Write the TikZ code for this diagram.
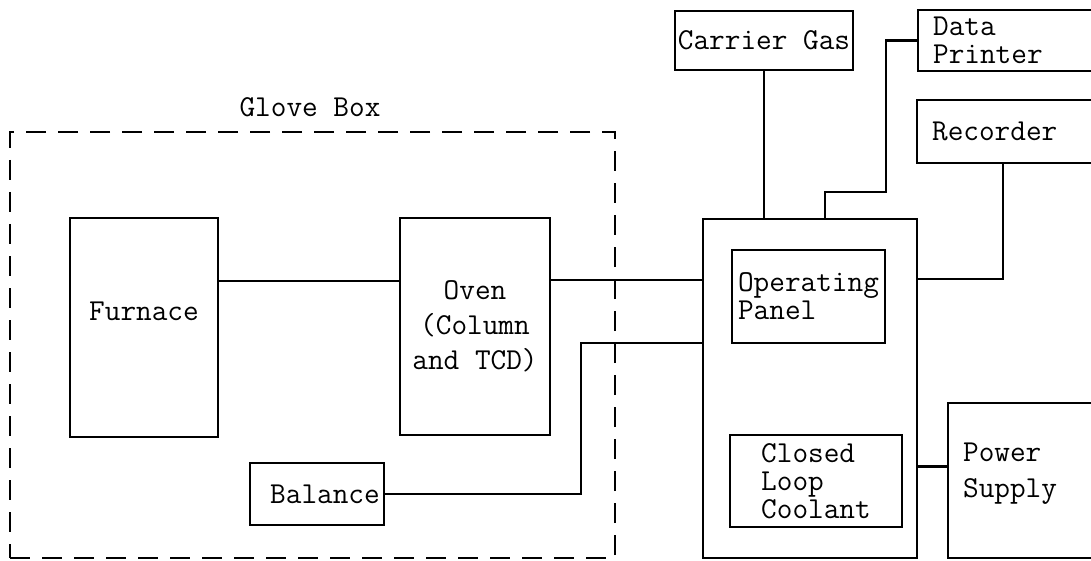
\documentclass[tikz,border=0pt]{standalone}
\usetikzlibrary{positioning}

\begin{document}
\begin{tikzpicture}[x=0.5pt, y=-0.5pt,
  font=\ttfamily\fontsize{15.2}{12}\selectfont,
  box/.style={draw, line width=1.1pt, inner sep=0pt, align=center},
  rbox/.style={draw, line width=1.1pt, anchor=west, inner xsep=7.5pt, inner ysep=0pt, align=left},
  gbox/.style={draw, line width=1.1pt, dash pattern=on 10pt off 6pt, inner sep=0pt},
  ln/.style={line width=1.1pt}]
\useasboundingbox (0,0) rectangle (1091,561);
% glove box
\node[gbox, minimum width=302.5pt, minimum height=213pt] (glove) at (312.5,345) {};
\node (gltxt) at (310,107) {Glove Box};
\node[box, minimum width=74pt, minimum height=109.5pt] (furnace) at (144,327.5) {\raisebox{8pt}[\height][\depth]{Furnace}};
\node[box, minimum width=75pt, minimum height=108.5pt, font=\ttfamily\fontsize{15.2}{17.5}\selectfont] (oven) at (475,326.5) {Oven\\(Column\\and TCD)};
\node[box, minimum width=67pt, minimum height=31pt] (balance) at (317,494) {\hspace{8pt}Balance};
% chromatograph
\node[box, minimum width=107pt, minimum height=169.5pt] (gc) at (810,388.5) {};
\node[box, minimum width=76.5pt, minimum height=46.5pt, align=left, font=\ttfamily\fontsize{15.2}{14}\selectfont] (panel) at (808.5,296.5) {Operating\\Panel};
\node[box, minimum width=86pt, minimum height=46pt, align=left, font=\ttfamily\fontsize{15.2}{14}\selectfont] (coolant) at (816,481) {Closed\\Loop\\Coolant};
% outside units
\node[box, minimum width=89pt, minimum height=29.5pt] (carrier) at (764,40.5) {Carrier Gas};
\node[rbox, text width=84pt, minimum height=30.5pt, font=\ttfamily\fontsize{15.2}{14}\selectfont] (printer) at (917,40.5) {Data\\Printer};
\node[rbox, text width=84pt, minimum height=31.5pt] (recorder) at (916,131.5) {Recorder};
\node[rbox, text width=70pt, minimum height=77.5pt, font=\ttfamily\fontsize{15.2}{18}\selectfont] (power) at (947,480.5)
  {\raisebox{4pt}[\height][\depth]{\begin{tabular}{@{}l@{}}Power\\Supply\end{tabular}}};
% connections
\coordinate (bend) at (581,343);
\coordinate (pj) at (886,192);
\draw[ln] ([yshift=-32pt]furnace.north east) coordinate (fo) -- (fo -| oven.west);
\draw[ln] ([yshift=-31.5pt]oven.north east) coordinate (og) -- (og -| gc.west);
\draw[ln] (balance.east) -| (bend) -- (bend -| gc.west);
\draw[ln] (carrier.south) -- (carrier.south |- gc.north);
\draw[ln] (printer.west) -| (pj) -| ([xshift=7.5pt]gc.north);
\draw[ln] ([yshift=-30.5pt]gc.north east) -| (recorder.south -| 1003,0);
\draw[ln] ([yshift=7pt]power.west) coordinate (pw) -- (pw -| gc.east);
\end{tikzpicture}
\end{document}
